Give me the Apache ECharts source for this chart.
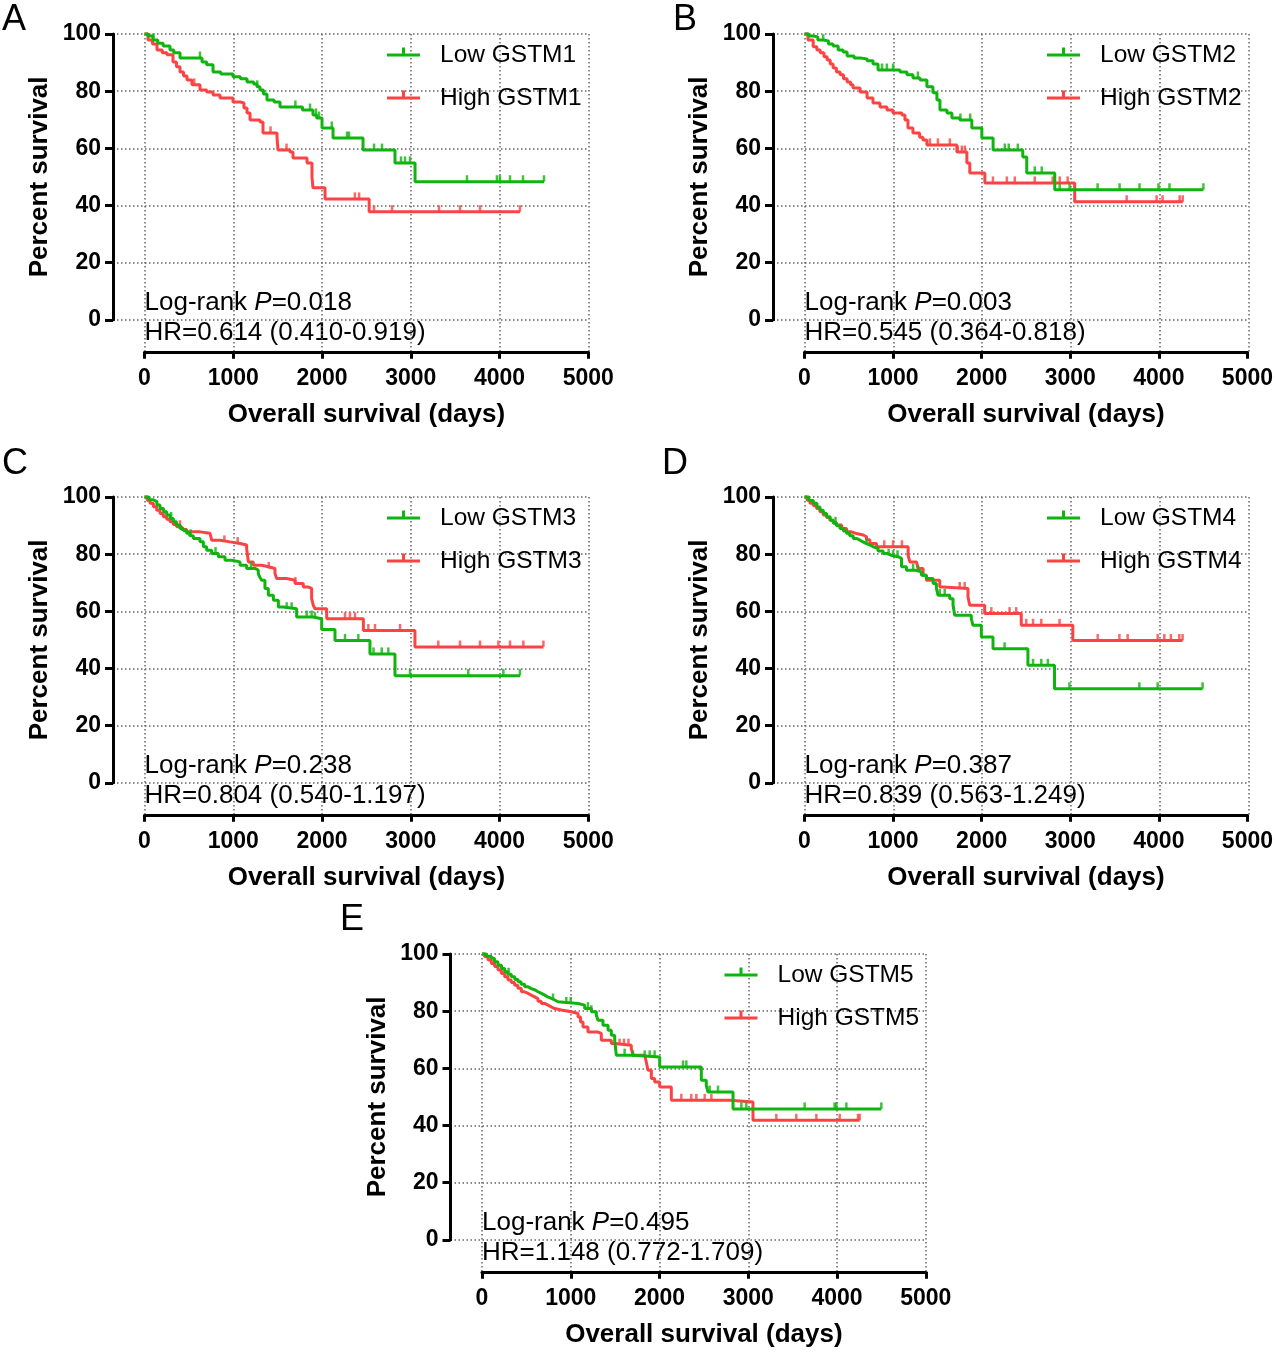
<!DOCTYPE html>
<html><head><meta charset="utf-8">
<script src="https://cdn.jsdelivr.net/npm/echarts@6/dist/echarts.min.js"></script>
<style>html,body{margin:0;padding:0;background:#fff}#chart{width:1276px;height:1352px}</style>
</head><body><div id="chart"></div>
<script>
// ---------- DATA ----------
const panelLetters = ['A', 'B', 'C', 'D', 'E'];
const genes = ['GSTM1', 'GSTM2', 'GSTM3', 'GSTM4', 'GSTM5'];
const logrankP = ['0.018', '0.003', '0.238', '0.387', '0.495'];
const hazardRatios = ['0.614 (0.410-0.919)', '0.545 (0.364-0.818)', '0.804 (0.540-1.197)', '0.839 (0.563-1.249)', '1.148 (0.772-1.709)'];
const xAxisTitle = 'Overall survival (days)';
const yAxisTitle = 'Percent survival';

// Kaplan-Meier steps: [day, percent surviving after the step]
const lowGSTM1 = [[0,100],[40,99.3],[96,97.9],[150,96.8],[210,95.8],[287,94.4],[330,93.4],[400,91.6],[648,90.2],[700,89.2],[772,86.7],[860,86.0],[997,85.0],[1080,84.3],[1155,83.2],[1230,82.5],[1267,81.5],[1301,80.4],[1340,79.0],[1380,76.9],[1460,76.2],[1527,74.5],[1780,73.4],[1898,71.7],[1940,70.6],[2000,67.1],[2124,63.6],[2462,59.4],[2822,54.9],[3048,48.3],[4501,48.3]];
const highGSTM1 = [[0,100],[39,97.9],[90,96.5],[141,94.4],[200,93.4],[253,92.7],[321,90.2],[360,88.5],[400,86.7],[440,85.3],[479,83.9],[535,82.2],[625,80.4],[700,79.7],[772,78.7],[851,77.6],[997,76.2],[1076,75.9],[1120,74.1],[1155,72.4],[1189,69.9],[1301,69.2],[1335,65.4],[1493,64.0],[1504,59.4],[1639,58.7],[1673,56.6],[1831,54.9],[1887,50.0],[1898,46.2],[2034,42.3],[2531,37.8],[4230,37.8]];
const lowGSTM2 = [[0,100],[50,99.3],[98,99.0],[150,97.9],[211,97.6],[270,96.5],[323,95.8],[380,94.4],[436,93.7],[481,92.3],[560,91.6],[628,91.3],[706,90.6],[774,89.5],[830,87.4],[1078,86.7],[1157,85.7],[1224,84.6],[1304,83.9],[1382,81.5],[1450,79.4],[1495,76.9],[1529,73.4],[1608,72.4],[1664,70.6],[1754,69.9],[1889,67.1],[2002,63.6],[2129,59.4],[2464,57.0],[2509,51.4],[2825,45.5],[4503,45.5]];
const highGSTM2 = [[0,100],[39,97.9],[98,95.5],[140,94.4],[177,93.4],[220,92.0],[256,90.9],[290,89.5],[323,88.1],[360,86.7],[402,85.7],[440,84.3],[481,83.2],[520,82.2],[548,81.1],[627,79.7],[706,77.6],[773,75.9],[852,74.5],[931,73.4],[998,72.4],[1100,71.7],[1134,69.9],[1168,67.1],[1224,65.4],[1300,63.9],[1337,62.9],[1382,61.2],[1720,58.7],[1833,54.9],[1866,51.4],[2036,47.9],[3050,41.3],[4270,41.3]];
const lowGSTM3 = [[0,100],[50,99.0],[100,98.4],[140,97.2],[175,96.0],[215,94.8],[250,93.7],[290,92.5],[325,91.3],[360,90.2],[400,89.0],[440,88.2],[475,87.3],[510,86.4],[550,85.5],[625,84.3],[663,82.6],[700,81.4],[757,80.2],[832,79.1],[907,77.9],[982,77.3],[1076,76.1],[1151,75.0],[1245,74.4],[1282,73.2],[1300,71.9],[1320,70.9],[1357,68.0],[1395,65.6],[1452,63.9],[1508,61.5],[1564,60.9],[1714,58.0],[1900,57.4],[1996,53.6],[2146,49.8],[2540,45.1],[2822,37.5],[4230,37.5]];
const highGSTM3 = [[0,100],[30,98.9],[62,97.8],[100,96.6],[137,95.4],[175,94.2],[212,93.1],[250,92.2],[287,91.3],[325,90.4],[362,89.6],[420,88.6],[475,87.8],[625,87.3],[738,86.7],[757,84.9],[851,84.3],[963,83.7],[1076,83.2],[1151,82.0],[1170,77.3],[1226,76.1],[1320,75.6],[1395,75.0],[1470,73.2],[1489,71.5],[1602,70.9],[1696,69.7],[1789,68.5],[1846,68.0],[1883,64.4],[1902,62.1],[1921,60.9],[2053,57.4],[2466,53.3],[3047,47.5],[4494,47.5]];
const lowGSTM4 = [[0,100],[50,98.8],[100,97.8],[140,96.5],[175,95.4],[212,94.2],[250,93.1],[290,91.9],[325,90.8],[360,89.9],[400,89.0],[440,88.1],[475,87.3],[510,86.4],[550,85.5],[590,84.9],[625,84.3],[660,83.7],[700,83.2],[740,82.6],[775,82.0],[830,81.1],[888,80.2],[940,79.6],[982,79.1],[1057,78.5],[1095,75.6],[1151,74.4],[1245,73.8],[1320,72.6],[1376,71.5],[1452,69.7],[1489,68.0],[1508,65.6],[1640,64.4],[1677,62.1],[1696,58.6],[1883,57.4],[1902,55.1],[1996,51.0],[2128,46.9],[2522,41.1],[2822,32.9],[4494,32.9]];
const highGSTM4 = [[0,100],[30,98.9],[62,97.8],[100,96.9],[137,96.0],[175,94.8],[212,93.7],[250,92.8],[287,91.9],[325,91.0],[362,90.2],[420,89.0],[475,87.8],[530,87.2],[588,86.7],[663,86.1],[700,85.0],[738,83.7],[813,82.6],[1170,79.6],[1189,77.3],[1264,76.7],[1282,75.0],[1339,72.6],[1376,70.9],[1527,68.5],[1564,68.0],[1846,65.0],[1865,62.1],[2034,59.2],[2447,55.1],[3029,49.8],[4268,49.8]];
const lowGSTM5 = [[0,100],[50,99.2],[105,98.5],[140,97.3],[180,96.1],[220,94.9],[255,93.8],[290,92.9],[330,92.0],[370,91.1],[406,90.3],[440,89.4],[481,88.5],[520,87.9],[556,87.4],[600,86.8],[631,86.2],[670,85.6],[706,85.0],[740,84.5],[781,83.9],[820,83.3],[856,82.7],[1082,82.1],[1157,80.9],[1232,79.8],[1288,78.6],[1307,76.8],[1363,75.1],[1420,73.3],[1457,71.6],[1495,69.8],[1513,64.6],[1700,64.0],[2002,60.5],[2471,55.8],[2527,54.0],[2546,51.7],[2828,45.8],[4499,45.8]];
const highGSTM5 = [[0,100],[30,99.0],[68,97.9],[105,96.7],[143,95.6],[180,94.4],[218,93.2],[255,92.0],[293,90.9],[330,90.0],[368,89.1],[405,88.0],[443,86.8],[480,86.2],[518,85.6],[555,85.0],[593,84.4],[630,83.5],[668,82.7],[705,82.1],[744,81.5],[780,80.9],[819,80.4],[894,79.8],[1006,79.2],[1082,78.0],[1110,76.2],[1138,74.5],[1194,72.7],[1307,72.2],[1344,69.8],[1457,68.7],[1495,68.1],[1682,66.9],[1701,64.6],[1833,64.0],[1851,62.2],[1870,59.3],[1908,56.4],[1945,55.2],[2002,53.5],[2133,48.8],[2790,48.2],[3053,41.8],[4255,41.8]];

// censored observation times (days)
const censLowGSTM1 = [100,625,1270,1700,1865,1932,1966,2110,2282,2304,2586,2676,2890,2935,2991,3633,3971,4005,4118,4264,4501];
const censHighGSTM1 = [560,1420,1600,2370,2418,2586,2789,3318,3555,3780,4230];
const censLowGSTM2 = [211,875,930,1000,1280,1760,1870,2261,2306,2408,2599,2678,2881,2993,3309,3557,3782,3996,4120,4503];
const censHighGSTM2 = [1416,1506,1641,1730,1777,1810,2127,2284,2374,2599,2802,2881,2971,3637,3975,4043,4235,4270];
const censLowGSTM3 = [300,520,800,1200,1602,1658,1827,1883,1921,2259,2409,2580,2673,2747,2991,3648,4043,4230];
const censHighGSTM3 = [400,900,1050,1400,1700,2259,2315,2372,2522,2597,2879,3310,3555,3780,3987,4118,4268,4494];
const censLowGSTM4 = [350,700,950,1000,1050,1226,1282,1527,1583,2259,2580,2673,2747,2991,3780,3987,4494];
const censHighGSTM4 = [900,1000,1100,1752,1808,2109,2315,2390,2503,2580,2673,2879,3310,3555,3648,3987,4062,4136,4231,4268];
const censLowGSTM5 = [300,800,950,1000,1194,1232,1607,1701,1833,1889,1945,2265,2302,2565,2659,2922,2978,3635,3973,3992,4105,4499];
const censHighGSTM5 = [1550,1600,1650,2246,2358,2415,2509,2584,3316,3541,3767,4030,4236,4255];

const lowCurves = [lowGSTM1, lowGSTM2, lowGSTM3, lowGSTM4, lowGSTM5];
const highCurves = [highGSTM1, highGSTM2, highGSTM3, highGSTM4, highGSTM5];
const lowCens = [censLowGSTM1, censLowGSTM2, censLowGSTM3, censLowGSTM4, censLowGSTM5];
const highCens = [censHighGSTM1, censHighGSTM2, censHighGSTM3, censHighGSTM4, censHighGSTM5];

// ---------- LAYOUT ----------
const FONT = '"Liberation Sans", Arial, Helvetica, sans-serif';
const GREEN = '#0fb40f';
const RED = '#fb4343';
const PW = 443.8, PH = 285.8, OFFY = 31.5, OFFX = 32;
const XMAX = 5000, YMAX = 100;
const panelPos = [
  {x0: 144.5, top: 34, lx: 2, ly: 2},
  {x0: 804.5, top: 34, lx: 673, ly: 2},
  {x0: 144.5, top: 497, lx: 2, ly: 446},
  {x0: 804.5, top: 497, lx: 662, ly: 446},
  {x0: 482, top: 954, lx: 340, ly: 902}
];
const ICON = 'path://M0,6h33v3h-33z M15,0h3v6h-3z M47.99,14.99h0.01v0.01h-0.01z';

function survAt(curve, t) {
  let v = curve[0][1];
  for (const p of curve) { if (p[0] <= t) v = p[1]; else break; }
  return v;
}
const plainNumber = v => String(v);

const grid = [], xAxis = [], yAxis = [], series = [], legend = [], graphic = [];
const n = genes.length;
const bgMinX = -OFFY / PW * XMAX;
const bgMinY = -OFFX / PH * YMAX;

for (let i = 0; i < n; i++) {
  const p = panelPos[i];
  grid[i] = {left: p.x0, top: p.top, width: PW, height: PH};
  grid[n + i] = {left: p.x0 - OFFY, top: p.top, width: PW + OFFY, height: PH + OFFX};
  xAxis[i] = {
    gridIndex: i, type: 'value', min: 0, max: XMAX, interval: 1000, offset: OFFX,
    axisLine: {show: true, onZero: false, lineStyle: {color: '#000', width: 3}},
    axisTick: {show: true, length: 7, lineStyle: {color: '#000', width: 3}},
    axisLabel: {fontSize: 23, fontWeight: 'bold', color: '#000', fontFamily: FONT, margin: 15, formatter: plainNumber},
    splitLine: {show: false},
    name: xAxisTitle, nameLocation: 'middle', nameGap: 50,
    nameTextStyle: {fontSize: 26, fontWeight: 'bold', color: '#000', fontFamily: FONT}
  };
  yAxis[i] = {
    gridIndex: i, type: 'value', min: 0, max: YMAX, interval: 20, offset: OFFY,
    axisLine: {show: true, onZero: false, lineStyle: {color: '#000', width: 3}},
    axisTick: {show: true, length: 8, lineStyle: {color: '#000', width: 3}},
    axisLabel: {fontSize: 23, fontWeight: 'bold', color: '#000', fontFamily: FONT, margin: 12, formatter: plainNumber},
    splitLine: {show: false},
    name: yAxisTitle, nameLocation: 'middle', nameGap: 60, nameRotate: 90,
    nameTextStyle: {fontSize: 26, fontWeight: 'bold', color: '#000', fontFamily: FONT}
  };
  const gridLine = {show: true, showMinLine: false, showMaxLine: true,
    lineStyle: {color: '#666', width: 1.5, type: [1.5, 2.5]}};
  xAxis[n + i] = {gridIndex: n + i, type: 'value', min: bgMinX, max: XMAX,
    axisLine: {show: false}, axisTick: {show: false}, axisLabel: {show: false}, splitLine: gridLine};
  yAxis[n + i] = {gridIndex: n + i, type: 'value', min: bgMinY, max: YMAX,
    axisLine: {show: false}, axisTick: {show: false}, axisLabel: {show: false}, splitLine: gridLine};

  const lowName = 'Low ' + genes[i], highName = 'High ' + genes[i];
  const groups = [
    {name: highName, curve: highCurves[i], cens: highCens[i], color: RED, z: 3},
    {name: lowName, curve: lowCurves[i], cens: lowCens[i], color: GREEN, z: 4}
  ];
  groups.forEach(g => {
    series.push({
      type: 'line', name: g.name, xAxisIndex: i, yAxisIndex: i, data: g.curve,
      step: 'end', symbol: 'none', showSymbol: false, clip: false, silent: true, z: g.z,
      lineStyle: {color: g.color, width: 3}, itemStyle: {color: g.color}, animation: false
    });
    series.push({
      type: 'scatter', name: g.name + ' censored', xAxisIndex: i, yAxisIndex: i,
      data: g.cens.map(t => [t, survAt(g.curve, t)]),
      symbol: 'rect', symbolSize: [2.5, 6.5], symbolOffset: [0, -3.25], clip: false, silent: true, z: g.z,
      itemStyle: {color: g.color}, animation: false
    });
  });

  legend.push({
    orient: 'vertical', left: p.x0 + 242.5, top: p.top + 8.5, padding: 0,
    itemWidth: 48, itemHeight: 15, itemGap: 18, selectedMode: false,
    itemStyle: {borderWidth: 0},
    textStyle: {fontSize: 24.5, color: '#000', fontFamily: FONT},
    data: [{name: lowName, icon: ICON}, {name: highName, icon: ICON}]
  });

  const rich = {
    a: {fontSize: 26, fontFamily: FONT, fill: '#000', color: '#000'},
    b: {fontSize: 26, fontFamily: FONT, fill: '#000', color: '#000', fontStyle: 'italic'}
  };
  graphic.push({type: 'text', x: p.x0, y: p.top + 269, silent: true,
    style: {text: '{a|Log-rank }{b|P}{a|=' + logrankP[i] + '}', rich: rich, verticalAlign: 'middle', align: 'left', font: '26px ' + FONT, fill: '#000'}});
  graphic.push({type: 'text', x: p.x0, y: p.top + 299, silent: true,
    style: {text: 'HR=' + hazardRatios[i], verticalAlign: 'middle', align: 'left', font: '26px ' + FONT, fill: '#000'}});
  graphic.push({type: 'text', x: p.lx, y: p.ly, silent: true,
    style: {text: panelLetters[i], verticalAlign: 'top', align: 'left', font: '36px ' + FONT, fill: '#000'}});
}

const chart = echarts.init(document.getElementById('chart'), null, {renderer: 'canvas'});
chart.setOption({
  animation: false,
  backgroundColor: '#fff',
  grid, xAxis, yAxis, series, legend, graphic
});
</script>
</body></html>
